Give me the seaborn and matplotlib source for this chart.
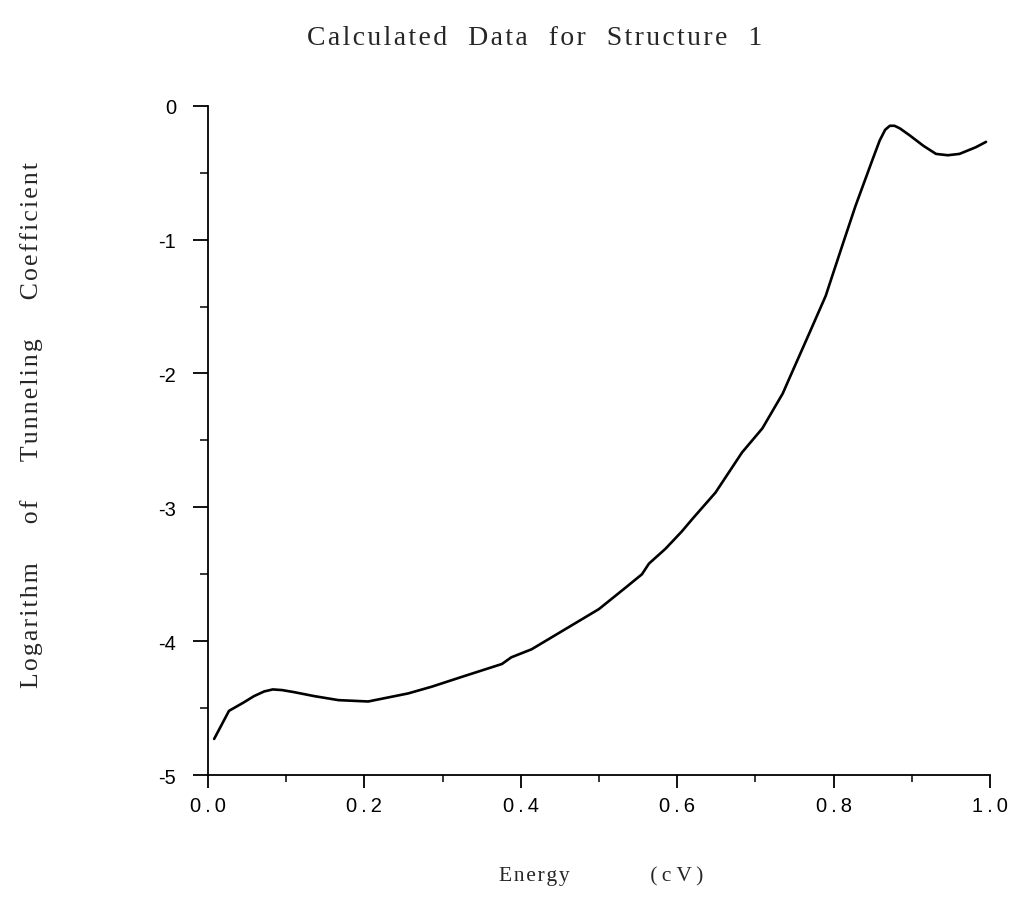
import numpy as np
import pandas as pd
import matplotlib
matplotlib.use('Agg')
import matplotlib.pyplot as plt
from matplotlib.ticker import MultipleLocator, FixedLocator, FixedFormatter
import seaborn as sns

# values
energy = [0.008, 0.027, 0.045, 0.059, 0.072, 0.083, 0.095, 0.110, 0.136, 0.167,
          0.205, 0.222, 0.256, 0.286, 0.328, 0.376, 0.388, 0.414, 0.457, 0.500,
          0.534, 0.555, 0.564, 0.585, 0.606, 0.619, 0.649, 0.683, 0.709, 0.735,
          0.744, 0.769, 0.790, 0.799, 0.812, 0.828, 0.850, 0.859, 0.866, 0.872,
          0.878, 0.885, 0.897, 0.915, 0.931, 0.946, 0.961, 0.982, 0.995]
log_tc = [-4.73, -4.52, -4.46, -4.41, -4.375, -4.36, -4.365, -4.38, -4.41, -4.44,
          -4.45, -4.43, -4.39, -4.34, -4.26, -4.17, -4.12, -4.06, -3.91, -3.76,
          -3.60, -3.50, -3.42, -3.31, -3.18, -3.09, -2.89, -2.59, -2.41, -2.15,
          -2.03, -1.70, -1.42, -1.26, -1.03, -0.75, -0.40, -0.26, -0.18, -0.15,
          -0.15, -0.17, -0.22, -0.30, -0.36, -0.37, -0.36, -0.31, -0.27]

x_ticks = [0.0, 0.2, 0.4, 0.6, 0.8, 1.0]
x_tick_labels = ['0.0', '0.2', '0.4', '0.6', '0.8', '1.0']
y_ticks = [0, -1, -2, -3, -4, -5]
y_tick_labels = ['0', '-1', '-2', '-3', '-4', '-5']

title = 'Calculated Data for Structure 1'
xlabel_words = ['Energy', '(c V)']
ylabel = 'Logarithm of Tunneling Coefficient'


def spaced(s, gap='\u200a', word_gap='   '):
    # old typewriter-ish letter spacing
    words = s.split(' ')
    return word_gap.join(gap.join(w) for w in words)


df = pd.DataFrame({'energy': energy, 'log_tc': log_tc})

sns.set_style('ticks')
serif = ['Liberation Serif', 'DejaVu Serif']
sans = ['Liberation Sans', 'DejaVu Sans']

fig = plt.figure(figsize=(10.19, 9.12), dpi=100)
ax = fig.add_axes([0.204, 0.149, 0.7675, 0.734])

sns.lineplot(data=df, x='energy', y='log_tc', ax=ax, color='black', linewidth=1.9)

ax.set_xlim(0, 1.0)
ax.set_ylim(-5, 0)
sns.despine(ax=ax)
for side in ['left', 'bottom']:
    ax.spines[side].set_linewidth(1.3)
    ax.spines[side].set_color('black')

ax.xaxis.set_major_locator(FixedLocator(x_ticks))
ax.xaxis.set_major_formatter(FixedFormatter([spaced(t, gap='\u2009') for t in x_tick_labels]))
ax.xaxis.set_minor_locator(MultipleLocator(0.1))
ax.yaxis.set_major_locator(FixedLocator(y_ticks))
ax.yaxis.set_major_formatter(FixedFormatter(y_tick_labels))
ax.yaxis.set_minor_locator(MultipleLocator(0.5))

ax.tick_params(axis='x', which='major', length=9, width=1.3, pad=6, colors='black')
ax.tick_params(axis='x', which='minor', length=5, width=1.3)
ax.tick_params(axis='y', which='major', length=11, width=1.3, pad=12, colors='black')
ax.tick_params(axis='y', which='minor', length=6, width=1.3)
for lab in ax.get_xticklabels() + ax.get_yticklabels():
    lab.set_family(sans)
    lab.set_fontsize(14.5)

unit = spaced(xlabel_words[1], gap='\u2009', word_gap=' ')
ax.set_xlabel('\u200a'.join(xlabel_words[0]) + ' ' * 15 + unit,
              family=serif, fontsize=15.5)
ax.xaxis.set_label_coords(0.503, -0.149)
ax.set_ylabel(spaced(ylabel, word_gap='      '), family=serif, fontsize=18.5)
ax.yaxis.set_label_coords(-0.225, 0.525)
ax.yaxis.label.set_va('center')
ax.xaxis.label.set_va('center')

fig.text(0.525, 0.958, spaced(title), family=serif, fontsize=20,
         ha='center', va='center')

fig.savefig('out.png', dpi=100, facecolor='white')
